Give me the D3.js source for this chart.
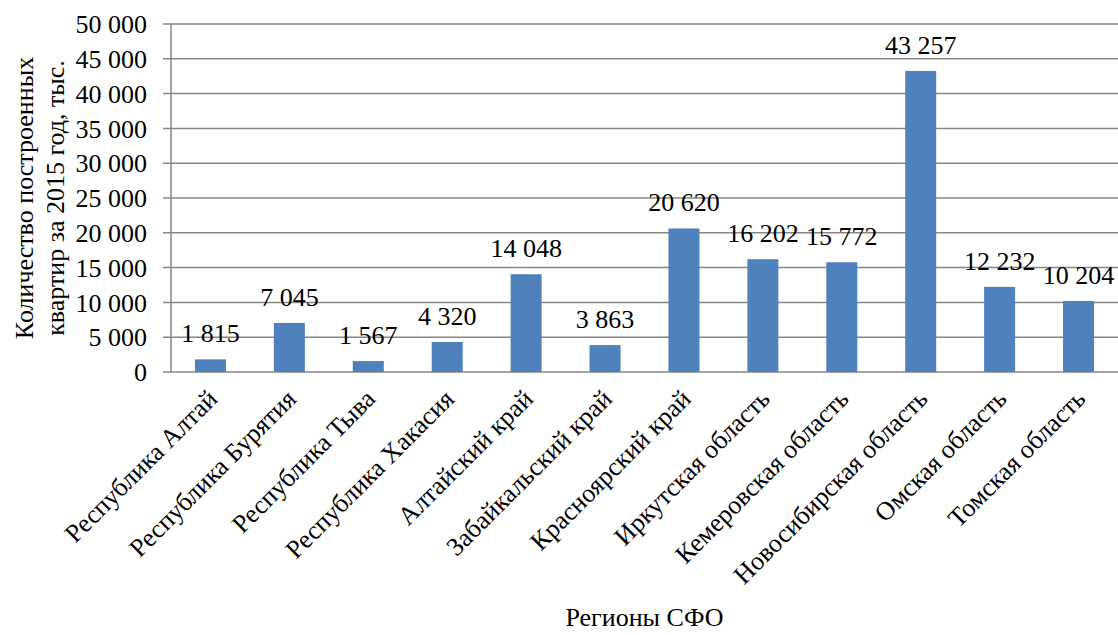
<!DOCTYPE html>
<html>
<head>
  <meta charset="utf-8">
  <script src="https://cdn.jsdelivr.net/npm/d3@7/dist/d3.min.js"></script>
  <style>
    body { margin: 0; background: #fff; }
  </style>
</head>
<body>
  <div id="chart"></div>
<script>
  // regions of the Siberian federal district and flats built in 2015
  const regions = ["Республика Алтай", "Республика Бурятия", "Республика Тыва", "Республика Хакасия",
    "Алтайский край", "Забайкальский край", "Красноярский край", "Иркутская область",
    "Кемеровская область", "Новосибирская область", "Омская область", "Томская область"];
  const flats = [1815, 7045, 1567, 4320, 14048, 3863, 20620, 16202, 15772, 43257, 12232, 10204];
  const yTicks = [0, 5000, 10000, 15000, 20000, 25000, 30000, 35000, 40000, 45000, 50000];
  const yTitle = ["Количество построенных", "квартир за 2015 год, тыс."];
  const xTitle = "Регионы СФО";

  const W = 1118, H = 635;
  const margin = {top: 24, right: 0, bottom: 263, left: 171};
  const width = W - margin.left - margin.right,
        height = H - margin.top - margin.bottom;
  const serif = "'Liberation Serif', 'DejaVu Serif', serif";
  const fs = 26;

  const fmt = v => d3.format(",")(v).replace(/,/g, " ");

  let svg = d3.select("#chart")
    .append("svg")
      .attr("width", W)
      .attr("height", H)
      .attr("font-family", serif);
  let g = svg.append("g")
      .attr("transform", "translate(" + margin.left + "," + margin.top + ")");

  let x = d3.scaleBand()
    .domain(regions)
    .range([0, width])
    .paddingInner(0.607)
    .paddingOuter(0.3035);

  let y = d3.scaleLinear()
    .domain([0, 50000])
    .range([height, 0]);

  // gridlines with short outer ticks
  g.append("g")
    .selectAll("line")
    .data(yTicks)
    .enter()
    .append("line")
      .attr("x1", -8)
      .attr("x2", width)
      .attr("y1", d => y(d))
      .attr("y2", d => y(d))
      .attr("stroke", "#868686")
      .attr("stroke-width", 1.5);

  // vertical axis line
  g.append("line")
    .attr("x1", 0).attr("x2", 0)
    .attr("y1", 0).attr("y2", height)
    .attr("stroke", "#868686")
    .attr("stroke-width", 1.5);

  // y tick labels
  g.append("g")
    .selectAll("text")
    .data(yTicks)
    .enter()
    .append("text")
      .attr("x", -24)
      .attr("y", d => y(d))
      .attr("dy", "0.35em")
      .attr("text-anchor", "end")
      .attr("font-family", serif)
      .attr("font-size", fs)
      .text(d => fmt(d));

  // bars
  g.selectAll("rect.bar")
    .data(flats)
    .enter()
    .append("rect")
      .attr("class", "bar")
      .attr("x", (d, i) => x(regions[i]))
      .attr("y", d => y(d))
      .attr("width", x.bandwidth())
      .attr("height", d => height - y(d))
      .attr("fill", "#4F81BD");

  // value labels
  g.selectAll("text.val")
    .data(flats)
    .enter()
    .append("text")
      .attr("class", "val")
      .attr("x", (d, i) => x(regions[i]) + x.bandwidth() / 2)
      .attr("y", d => y(d) - 17)
      .attr("text-anchor", "middle")
      .attr("font-family", serif)
      .attr("font-size", fs)
      .text(d => fmt(d));

  // category labels, rotated
  g.selectAll("text.cat")
    .data(regions)
    .enter()
    .append("text")
      .attr("class", "cat")
      .attr("transform", d => "translate(" + (x(d) + x.bandwidth() / 2 + 2) + "," + (height + 22) + ") rotate(-45)")
      .attr("text-anchor", "end")
      .attr("dy", "0.35em")
      .attr("font-family", serif)
      .attr("font-size", fs)
      .text(d => d);

  // axis titles
  svg.append("text")
    .attr("x", margin.left + width / 2)
    .attr("y", 626)
    .attr("text-anchor", "middle")
    .attr("font-family", serif)
    .attr("font-size", fs)
    .text(xTitle);

  svg.append("g")
    .attr("transform", "translate(0," + (margin.top + height / 2) + ") rotate(-90)")
    .selectAll("text")
    .data(yTitle)
    .enter()
    .append("text")
      .attr("x", 0)
      .attr("y", (d, i) => 33 + i * 31)
      .attr("text-anchor", "middle")
      .attr("font-family", serif)
      .attr("font-size", fs)
      .text(d => d);
</script>
</body>
</html>
